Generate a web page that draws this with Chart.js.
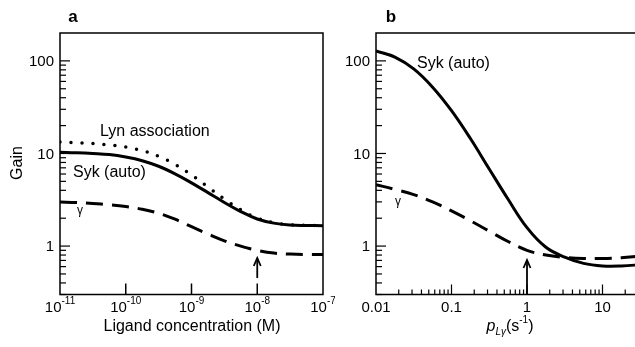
<!DOCTYPE html>
<html>
<head>
<meta charset="utf-8">
<script src="https://cdn.jsdelivr.net/npm/chart.js@4.4.1/dist/chart.umd.min.js"></script>
<style>
  html, body { margin: 0; padding: 0; background: #fff; }
  body { width: 635px; height: 347px; overflow: hidden; position: relative; }
  canvas { position: absolute; top: 0; }
  #panelA { left: 0; }
  #panelB { left: 330px; }
</style>
</head>
<body>
<canvas id="panelA" width="335" height="347"></canvas>
<canvas id="panelB" width="400" height="347"></canvas>
<script>
'use strict';

/* ── panel a: gain vs ligand concentration (M) ── */
const ligandConc = [1e-11, 1.78e-11, 3.16e-11, 5.62e-11, 1e-10, 1.78e-10, 3.16e-10, 5.62e-10,
                    1e-9, 1.78e-9, 3.16e-9, 5.62e-9, 1e-8, 1.78e-8, 3.16e-8, 5.62e-8, 1e-7];
const lynAssocA  = [13.3, 13.09, 12.79, 12.36, 11.75, 10.72, 9.33, 7.62,
                    5.86, 4.35, 3.22, 2.47, 2.0, 1.79, 1.70, 1.67, 1.66];
const sykAutoA   = [10.3, 10.19, 10.0, 9.73, 9.16, 8.36, 7.28, 6.03,
                    4.82, 3.78, 2.96, 2.36, 1.96, 1.77, 1.69, 1.67, 1.66];
const gammaA     = [3.0, 2.95, 2.88, 2.79, 2.67, 2.5, 2.26, 1.95,
                    1.62, 1.35, 1.14, 1.0, 0.90, 0.84, 0.82, 0.81, 0.81];
const ligandTicks = [1e-11, 1e-10, 1e-9, 1e-8, 1e-7];
const ligandExp   = ['-11', '-10', '-9', '-8', '-7'];

/* ── panel b: gain vs p_Lγ (1/s) ── */
const rateB     = [0.01, 0.0178, 0.0316, 0.0562, 0.1, 0.178, 0.316, 0.562,
                   1, 1.78, 3.16, 5.62, 10, 17.8, 31.6, 56.2, 100];
const sykAutoB  = [128, 110, 82, 52, 29, 14.5, 6.8, 3.2,
                   1.58, 0.97, 0.76, 0.65, 0.61, 0.61, 0.63, 0.655, 0.68];
const gammaB    = [4.6, 4.1, 3.6, 3.0, 2.4, 1.88, 1.45, 1.12,
                   0.9, 0.8, 0.755, 0.735, 0.735, 0.75, 0.78, 0.81, 0.85];
const rateTicks  = [0.01, 0.1, 1, 10];
const rateLabels = ['0.01', '0.1', '1', '10'];

const gainTicks  = [1, 10, 100];
const gainLabels = ['1', '10', '100'];

const FONT = "'Liberation Sans', Arial, Helvetica, sans-serif";

function series(xs, ys) {
  return xs.map((x, i) => ({ x: x, y: ys[i] }));
}

function lineSet(label, data, extra) {
  return Object.assign({
    label: label,
    data: data,
    borderColor: '#000',
    borderWidth: 3,
    pointRadius: 0,
    fill: false,
    tension: 0.4,
  }, extra || {});
}

/* ── drawing helpers ── */
function seg(ctx, x1, y1, x2, y2) {
  ctx.beginPath();
  ctx.moveTo(x1, y1);
  ctx.lineTo(x2, y2);
  ctx.stroke();
}

function drawFrame(chart) {
  const { ctx, chartArea: a } = chart;
  ctx.lineWidth = 1.5;
  ctx.strokeRect(a.left, a.top, a.right - a.left, a.bottom - a.top);
}

function drawGainAxis(chart) {
  const { ctx, chartArea: a, scales: { y } } = chart;
  ctx.lineWidth = 1.2;
  [0.1, 1, 10, 100].forEach(dec => {
    for (let m = 1; m <= 9; m++) {
      const v = m * dec;
      if (v <= y.min || v >= y.max) continue;
      const py = y.getPixelForValue(v);
      seg(ctx, a.left, py, a.left + (m === 1 ? 10 : 6), py);
    }
  });
  ctx.font = `15px ${FONT}`;
  ctx.textAlign = 'right';
  ctx.textBaseline = 'middle';
  gainTicks.forEach((v, i) => {
    ctx.fillText(gainLabels[i], a.left - 6, y.getPixelForValue(v) + 1);
  });
}

function drawArrow(ctx, x, yTip, yEnd) {
  ctx.lineWidth = 1.8;
  seg(ctx, x, yEnd, x, yTip);
  ctx.beginPath();
  ctx.moveTo(x - 3.5, yTip + 8);
  ctx.lineTo(x, yTip);
  ctx.lineTo(x + 3.5, yTip + 8);
  ctx.stroke();
}

// "10" with a raised exponent, centred on x
function drawPow(ctx, x, yBase, exp) {
  ctx.font = `15px ${FONT}`;
  const wb = ctx.measureText('10').width;
  ctx.font = `10px ${FONT}`;
  const we = ctx.measureText(exp).width;
  const x0 = x - (wb + we) / 2;
  ctx.textAlign = 'left';
  ctx.textBaseline = 'alphabetic';
  ctx.font = `15px ${FONT}`;
  ctx.fillText('10', x0, yBase);
  ctx.font = `10px ${FONT}`;
  ctx.fillText(exp, x0 + wb, yBase - 8);
}

/* ── panel a decoration ── */
const decorA = {
  id: 'decorA',
  afterDatasetsDraw(chart) {
    const { ctx, chartArea: a, scales: { x } } = chart;
    ctx.save();
    ctx.strokeStyle = '#000';
    ctx.fillStyle = '#000';
    drawFrame(chart);
    drawGainAxis(chart);

    ctx.lineWidth = 1.5;
    [1e-10, 1e-9, 1e-8].forEach(v => {
      const px = x.getPixelForValue(v);
      seg(ctx, px, a.bottom, px, a.bottom - 11);
    });
    ligandTicks.forEach((v, i) => drawPow(ctx, x.getPixelForValue(v), 312, ligandExp[i]));

    drawArrow(ctx, x.getPixelForValue(1e-8), 258, 278);

    ctx.textAlign = 'center';
    ctx.textBaseline = 'alphabetic';
    ctx.font = `16px ${FONT}`;
    ctx.fillText('Ligand concentration (M)', 192, 331);

    ctx.save();
    ctx.translate(22, 163);
    ctx.rotate(-Math.PI / 2);
    ctx.fillText('Gain', 0, 0);
    ctx.restore();

    ctx.font = `bold 17px ${FONT}`;
    ctx.fillText('a', 73, 22);

    ctx.textAlign = 'left';
    ctx.font = `16px ${FONT}`;
    ctx.fillText('Lyn association', 100, 136);
    ctx.fillText('Syk (auto)', 73, 177);
    ctx.font = `12px ${FONT}`;
    ctx.textAlign = 'center';
    ctx.textBaseline = 'middle';
    ctx.fillText('\u03b3', 80, 211);
    ctx.restore();
  },
};

/* ── panel b decoration ── */
const decorB = {
  id: 'decorB',
  afterDatasetsDraw(chart) {
    const { ctx, chartArea: a, scales: { x } } = chart;
    const off = 330; // canvas left offset on the page
    ctx.save();
    ctx.strokeStyle = '#000';
    ctx.fillStyle = '#000';
    drawFrame(chart);
    drawGainAxis(chart);

    ctx.lineWidth = 1.2;
    [0.01, 0.1, 1, 10].forEach(dec => {
      for (let m = 1; m <= 9; m++) {
        const v = m * dec;
        if (v <= x.min || v >= x.max) continue;
        const px = x.getPixelForValue(v);
        seg(ctx, px, a.bottom, px, a.bottom - (m === 1 ? 10 : 5));
      }
    });

    ctx.font = `15px ${FONT}`;
    ctx.textAlign = 'center';
    ctx.textBaseline = 'alphabetic';
    rateTicks.forEach((v, i) => ctx.fillText(rateLabels[i], x.getPixelForValue(v), 312));

    drawArrow(ctx, x.getPixelForValue(1), 260, a.bottom);

    // axis title: p_Lγ (s^-1)
    const parts = [
      { t: 'p', f: `italic 16px ${FONT}`, dy: 0 },
      { t: 'L\u03b3', f: `italic 10px ${FONT}`, dy: 4 },
      { t: '(s', f: `16px ${FONT}`, dy: 0 },
      { t: '-1', f: `10px ${FONT}`, dy: -8 },
      { t: ')', f: `16px ${FONT}`, dy: 0 },
    ];
    let total = 0;
    parts.forEach(p => { ctx.font = p.f; p.w = ctx.measureText(p.t).width; total += p.w; });
    let cx = 510 - off - total / 2;
    ctx.textAlign = 'left';
    parts.forEach(p => { ctx.font = p.f; ctx.fillText(p.t, cx, 331 + p.dy); cx += p.w; });

    ctx.textAlign = 'center';
    ctx.font = `bold 17px ${FONT}`;
    ctx.fillText('b', 391 - off, 22);

    ctx.textAlign = 'left';
    ctx.font = `16px ${FONT}`;
    ctx.fillText('Syk (auto)', 417 - off, 68);
    ctx.font = `12px ${FONT}`;
    ctx.textAlign = 'center';
    ctx.textBaseline = 'middle';
    ctx.fillText('\u03b3', 398 - off, 202);
    ctx.restore();
  },
};

function logScales(xMin, xMax) {
  return {
    x: { type: 'logarithmic', min: xMin, max: xMax, display: false },
    y: { type: 'logarithmic', min: 0.3, max: 200, display: false },
  };
}

function baseOptions(padding, scales) {
  return {
    responsive: false,
    animation: false,
    devicePixelRatio: 1,
    layout: { padding: padding },
    plugins: { legend: { display: false }, tooltip: { enabled: false } },
    scales: scales,
  };
}

new Chart(document.getElementById('panelA'), {
  type: 'line',
  data: {
    datasets: [
      lineSet('Lyn association', series(ligandConc, lynAssocA),
              { borderWidth: 3.5, borderDash: [0, 11], borderCapStyle: 'round' }),
      lineSet('Syk (auto)', series(ligandConc, sykAutoA)),
      lineSet('\u03b3', series(ligandConc, gammaA), { borderDash: [17, 9] }),
    ],
  },
  options: baseOptions({ left: 60, right: 12, top: 33, bottom: 52.5 }, logScales(1e-11, 1e-7)),
  plugins: [decorA],
});

new Chart(document.getElementById('panelB'), {
  type: 'line',
  data: {
    datasets: [
      lineSet('Syk (auto)', series(rateB, sykAutoB)),
      lineSet('\u03b3', series(rateB, gammaB), { borderDash: [17, 9] }),
    ],
  },
  options: baseOptions({ left: 46, right: 52, top: 33, bottom: 52.5 }, logScales(0.01, 100)),
  plugins: [decorB],
});
</script>
</body>
</html>
